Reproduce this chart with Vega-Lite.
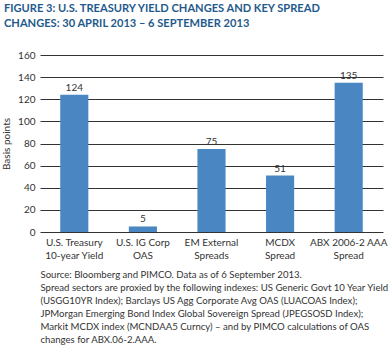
{
  "$schema": "https://vega.github.io/schema/vega-lite/v6.json",
  "autosize": "none",
  "width": 343,
  "height": 177,
  "padding": {"left": 40, "top": 55, "right": 6, "bottom": 117},
  "background": "white",
  "config": {
    "view": {"stroke": null},
    "font": "Lato",
    "axis": {"labelFont": "Lato", "titleFont": "Lato"}
  },
  "title": {
    "text": ["FIGURE 3: U.S. TREASURY YIELD CHANGES AND KEY SPREAD", "CHANGES: 30 APRIL 2013 – 6 SEPTEMBER 2013"],
    "anchor": "start",
    "frame": "group",
    "dx": -36,
    "offset": 21,
    "font": "Lato",
    "fontSize": 11.1,
    "fontWeight": "bold",
    "color": "#1f5a8c",
    "lineHeight": 14.5
  },
  "data": {
    "values": [
      {"sector": "U.S. Treasury|10-year Yield", "bp": 124},
      {"sector": "U.S. IG Corp|OAS", "bp": 5},
      {"sector": "EM External|Spreads", "bp": 75},
      {"sector": "MCDX|Spread", "bp": 51},
      {"sector": "ABX 2006-2 AAA|Spread", "bp": 135}
    ]
  },
  "encoding": {
    "x": {
      "field": "sector",
      "type": "nominal",
      "sort": null,
      "scale": {"paddingInner": 0.59, "paddingOuter": 0.295},
      "axis": {
        "labelAngle": 0,
        "labelExpr": "split(datum.label, '|')",
        "labelFontSize": 10,
        "labelColor": "#333333",
        "labelLineHeight": 13,
        "labelPadding": 5,
        "ticks": false,
        "domain": false,
        "title": [
          "Source: Bloomberg and PIMCO. Data as of 6 September 2013.",
          "Spread sectors are proxied by the following indexes: US Generic Govt 10 Year Yield",
          "(USGG10YR Index); Barclays US Agg Corporate Avg OAS (LUACOAS Index);",
          "JPMorgan Emerging Bond Index Global Sovereign Spread (JPEGSOSD Index);",
          "Markit MCDX index (MCNDAA5 Curncy) – and by PIMCO calculations of OAS",
          "changes for ABX.06-2.AAA."
        ],
        "titleAnchor": "start",
        "titleAlign": "left",
        "titleFontSize": 9.6,
        "titleFontWeight": "normal",
        "titleColor": "#333333",
        "titleLineHeight": 13,
        "titlePadding": 9,
        "titleBaseline": "top"
      }
    },
    "y": {
      "field": "bp",
      "type": "quantitative",
      "scale": {"domain": [0, 160]},
      "axis": {
        "values": [0, 20, 40, 60, 80, 100, 120, 140, 160],
        "title": "Basis points",
        "titleFontSize": 10,
        "titleFontWeight": "normal",
        "titleColor": "#333333",
        "titlePadding": 6,
        "labelFontSize": 10,
        "labelColor": "#333333",
        "labelPadding": 5,
        "ticks": false,
        "domain": false,
        "gridColor": "#333333",
        "gridWidth": 1,
        "gridOpacity": 1
      }
    }
  },
  "layer": [
    {"mark": {"type": "bar", "color": "#4a87c2"}},
    {
      "mark": {"type": "text", "baseline": "bottom", "dy": -2, "fontSize": 10, "color": "#333333", "font": "Lato"},
      "encoding": {"text": {"field": "bp", "type": "quantitative"}}
    }
  ]
}
